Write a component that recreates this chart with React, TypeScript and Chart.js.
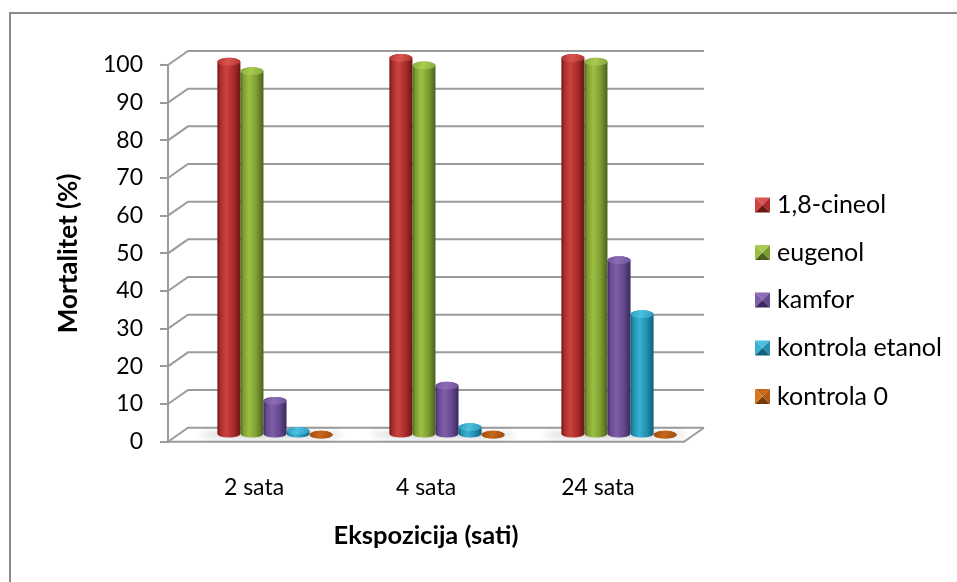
import React, { useEffect, useRef } from 'react';
import { Chart, registerables } from 'chart.js';

Chart.register(...registerables);

// Mortality (%) per exposure time
const categories = ['2 sata', '4 sata', '24 sata'];
const seriesNames = ['1,8-cineol', 'eugenol', 'kamfor', 'kontrola etanol', 'kontrola 0'];
const cineol = [99, 100, 100];
const eugenol = [96.5, 98, 99];
const kamfor = [9, 13, 46.3];
const kontrolaEtanol = [1, 2, 32];
const kontrola0 = [0, 0, 0];
const yTickValues = [0, 10, 20, 30, 40, 50, 60, 70, 80, 90, 100];

const seriesValues = [cineol, eugenol, kamfor, kontrolaEtanol, kontrola0];

type Shade = { light: string; mid: string; dark: string; cap: string; capEdge: string };
const palette: Shade[] = [
  { light: '#CB4441', mid: '#A92C2A', dark: '#6A1716', cap: '#D8554F', capEdge: '#B2302D' },
  { light: '#9CC043', mid: '#7C9C31', dark: '#4A6120', cap: '#A8CB50', capEdge: '#86A83A' },
  { light: '#7E5FA8', mid: '#654990', dark: '#3A285A', cap: '#8C6DB6', capEdge: '#6E519A' },
  { light: '#38B0D2', mid: '#2290B2', dark: '#135E78', cap: '#4CC0DE', capEdge: '#2A9ABD' },
  { light: '#D8741E', mid: '#B35A10', dark: '#7A3A08', cap: '#C8661A', capEdge: '#9A4A0C' },
];

const FONT = 'Lato, "Open Sans", sans-serif';
const CANVAS_W = 957;
const CANVAS_H = 582;

// oblique depth of the floor / back wall
const DEPTH_X = 20;
const DEPTH_Y = -14;
// cylinders stand inside the floor, not on its front edge
const BAR_SHIFT_X = 21;
const BAR_SHIFT_Y = -7;

const GRID_COLOR = '#9B9B9B';

function drawCylinder(ctx: CanvasRenderingContext2D, cx: number, yTop: number, yBase: number, w: number, s: Shade) {
  const rx = w / 2;
  const ry = Math.max(3, w * 0.17);
  const x0 = cx - rx;
  const x1 = cx + rx;
  const g = ctx.createLinearGradient(x0, 0, x1, 0);
  g.addColorStop(0, s.dark);
  g.addColorStop(0.12, s.mid);
  g.addColorStop(0.38, s.light);
  g.addColorStop(0.7, s.mid);
  g.addColorStop(1, s.dark);
  ctx.fillStyle = g;
  ctx.beginPath();
  ctx.moveTo(x0, yTop);
  ctx.lineTo(x0, yBase);
  ctx.ellipse(cx, yBase, rx, ry, 0, Math.PI, 0, true);
  ctx.lineTo(x1, yTop);
  ctx.ellipse(cx, yTop, rx, ry, 0, 0, Math.PI, true);
  ctx.closePath();
  ctx.fill();

  const tg = ctx.createLinearGradient(x0, yTop - ry, x1, yTop + ry);
  tg.addColorStop(0, s.capEdge);
  tg.addColorStop(0.45, s.cap);
  tg.addColorStop(1, s.capEdge);
  ctx.fillStyle = tg;
  ctx.beginPath();
  ctx.ellipse(cx, yTop, rx, ry, 0, 0, Math.PI * 2);
  ctx.fill();
}

function drawMarker(ctx: CanvasRenderingContext2D, x: number, y: number, size: number, s: Shade) {
  const cx = x + size / 2;
  const cy = y + size / 2;
  const tri = (ax: number, ay: number, bx: number, by: number, col: string) => {
    ctx.fillStyle = col;
    ctx.beginPath();
    ctx.moveTo(ax, ay);
    ctx.lineTo(bx, by);
    ctx.lineTo(cx, cy);
    ctx.closePath();
    ctx.fill();
  };
  tri(x, y, x + size, y, s.cap);
  tri(x + size, y, x + size, y + size, s.mid);
  tri(x, y + size, x + size, y + size, s.dark);
  tri(x, y, x, y + size, s.light);
}

const frame3d = {
  id: 'frame3d',
  beforeDraw(chart: any) {
    const { ctx, width, height } = chart;
    ctx.save();
    ctx.fillStyle = '#FFFFFF';
    ctx.fillRect(0, 0, width, height);
    ctx.strokeStyle = '#8A8A8A';
    ctx.lineWidth = 2;
    ctx.strokeRect(10, 13, width + 20, height + 20);
    ctx.restore();
  },
  beforeDatasetsDraw(chart: any) {
    const { ctx, chartArea, scales } = chart;
    const { left, right } = chartArea;
    const y = scales.y;
    ctx.save();
    ctx.strokeStyle = GRID_COLOR;
    ctx.lineWidth = 2;
    ctx.lineJoin = 'miter';
    for (const v of yTickValues) {
      const py = y.getPixelForValue(v);
      ctx.beginPath();
      ctx.moveTo(left, py);
      ctx.lineTo(left + DEPTH_X, py + DEPTH_Y);
      ctx.lineTo(right + DEPTH_X, py + DEPTH_Y);
      ctx.stroke();
    }
    const y0 = y.getPixelForValue(0);
    ctx.beginPath();
    ctx.moveTo(left, y0);
    ctx.lineTo(right, y0);
    ctx.lineTo(right + DEPTH_X, y0 + DEPTH_Y);
    ctx.stroke();
    ctx.restore();
  },
  beforeDatasetDraw() {
    return false;
  },
  afterDatasetsDraw(chart: any) {
    const { ctx } = chart;
    const metas = chart.data.datasets.map((_: any, i: number) => chart.getDatasetMeta(i));
    ctx.save();
    // soft floor shadow under each group
    for (let c = 0; c < categories.length; c++) {
      const first = metas[0].data[c];
      const last = metas[metas.length - 1].data[c];
      const l = first.x - first.width / 2 + BAR_SHIFT_X;
      const r = last.x + last.width / 2 + BAR_SHIFT_X;
      const base = first.base + BAR_SHIFT_Y;
      ctx.filter = 'blur(3px)';
      ctx.fillStyle = 'rgba(90,90,90,0.28)';
      ctx.beginPath();
      ctx.ellipse((l + r) / 2 - 4, base + 1, (r - l) / 2 + 14, 3.5, 0, 0, Math.PI * 2);
      ctx.fill();
      ctx.filter = 'none';
    }
    // cylinders, left to right
    for (let c = 0; c < categories.length; c++) {
      metas.forEach((meta: any, i: number) => {
        const el = meta.data[c];
        drawCylinder(ctx, el.x + BAR_SHIFT_X, el.y + BAR_SHIFT_Y, el.base + BAR_SHIFT_Y, el.width, palette[i]);
      });
    }
    ctx.restore();
  },
  afterDraw(chart: any) {
    const { ctx } = chart;
    ctx.save();
    ctx.font = `25px ${FONT}`;
    ctx.textBaseline = 'middle';
    ctx.textAlign = 'left';
    const rowY = [205, 252.5, 300, 348, 396.5];
    chart.data.datasets.forEach((ds: any, i: number) => {
      const yy = rowY[i];
      drawMarker(ctx, 755, yy - 7.5, 15, palette[i]);
      ctx.fillStyle = '#000';
      ctx.fillText(ds.label, 777, yy);
    });
    ctx.restore();
  },
};

export default function App() {
  const canvasRef = useRef<HTMLCanvasElement | null>(null);

  useEffect(() => {
    const canvas = canvasRef.current;
    if (!canvas) return;
    const chart = new Chart(canvas, {
      type: 'bar',
      data: {
        labels: categories,
        datasets: seriesNames.map((name, i) => ({
          label: name,
          data: seriesValues[i],
          backgroundColor: palette[i].mid,
          categoryPercentage: 0.67,
          barPercentage: 1,
        })),
      },
      options: {
        responsive: false,
        animation: false,
        devicePixelRatio: 1,
        layout: { padding: { top: 65, right: CANVAS_W - 684, bottom: 0, left: 0 } },
        plugins: { legend: { display: false }, tooltip: { enabled: false } },
        scales: {
          x: {
            grid: { display: false },
            border: { display: false },
            ticks: { font: { family: FONT, size: 23 }, color: '#000', padding: 24 },
            title: {
              display: true,
              text: 'Ekspozicija (sati)',
              color: '#000',
              font: { family: FONT, size: 25.5, weight: 'bold' },
              padding: { top: 0, bottom: 31 },
            },
            afterFit: (scale: any) => {
              scale.height = CANVAS_H - 441.7;
            },
          },
          y: {
            min: 0,
            max: 100,
            ticks: { stepSize: 10, font: { family: FONT, size: 23 }, color: '#000', padding: 17 },
            grid: { drawOnChartArea: false, drawTicks: true, tickLength: 8, color: GRID_COLOR, lineWidth: 2 },
            border: { display: true, color: GRID_COLOR, width: 2 },
            title: {
              display: true,
              text: 'Mortalitet (%)',
              color: '#000',
              font: { family: FONT, size: 26, weight: 'bold' },
              padding: { top: 53, bottom: 0 },
            },
            afterFit: (scale: any) => {
              scale.width = 168;
            },
          },
        },
      },
      plugins: [frame3d],
    } as any);
    return () => chart.destroy();
  }, []);

  return (
    <div style={{ position: 'fixed', left: 0, top: 0, width: CANVAS_W, height: CANVAS_H, background: '#fff' }}>
      <canvas ref={canvasRef} width={CANVAS_W} height={CANVAS_H} style={{ display: 'block' }} />
    </div>
  );
}
